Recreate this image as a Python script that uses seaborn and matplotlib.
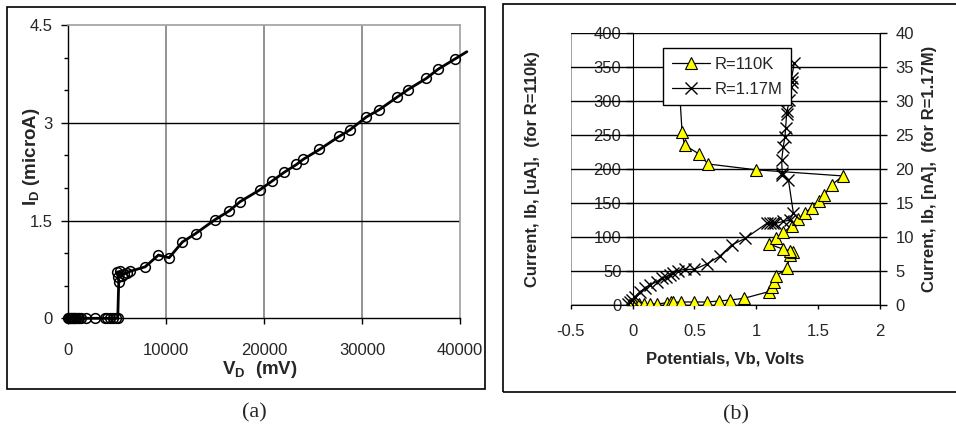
import numpy as np
import pandas as pd
import matplotlib
matplotlib.use("Agg")
import matplotlib.pyplot as plt
import seaborn as sns
from matplotlib.patches import Rectangle
from matplotlib.ticker import FuncFormatter, MultipleLocator

# ---- panel (a): drain current vs drain voltage ----
vd_mv = [0, 80, 160, 250, 350, 450, 550, 650, 800, 950, 1100, 1300, 1800, 2700,
         3700, 4000, 4300, 4600, 4900, 5050, 5150, 5100, 5000, 5300, 5500, 5700,
         6000, 6300, 7850, 9200, 10300, 11650, 13000, 14950, 16450, 17550, 19550,
         20850, 22050, 23300, 24000, 25650, 27650, 28750, 30450, 31750, 33550,
         34700, 36550, 37750, 39500, 40700]
id_ua = [0, 0, 0, 0, 0, 0, 0, 0, 0, 0, 0, 0, 0, 0,
         0, 0, 0, 0, 0, 0, 0.56, 0.63, 0.71, 0.72, 0.65, 0.68,
         0.70, 0.72, 0.79, 0.97, 0.93, 1.17, 1.30, 1.51, 1.65, 1.79, 1.97,
         2.11, 2.24, 2.36, 2.44, 2.59, 2.79, 2.89, 3.09, 3.20, 3.39,
         3.51, 3.68, 3.82, 3.98, 4.09]

# ---- panel (b): R=110K (uA, left axis) ----
vb_110k = [-0.03, -0.01, 0.02, 0.05, 0.09, 0.14, 0.20, 0.28, 0.31, 0.33, 0.39,
           0.50, 0.60, 0.70, 0.79, 0.90, 1.10, 1.13, 1.14, 1.16, 1.25, 1.27,
           1.30, 1.27, 1.22, 1.10, 1.16, 1.22, 1.29, 1.34, 1.39, 1.45, 1.51,
           1.55, 1.61, 1.70, 1.00, 0.61, 0.54, 0.42, 0.40, 0.38, 0.37]
ib_110k = [0, 1, 0, 1, 1.5, 1.5, 1.5, 3.4, 4, 4, 4.4,
           4.4, 4.4, 5.9, 7.4, 9.8, 19.6, 27, 34, 43, 54, 73,
           77.5, 80, 82, 90, 98, 107, 117, 126.6, 136, 142.8, 152.6,
           162, 177, 190, 199, 207.6, 222, 235.6, 255, 315, 350]

# ---- panel (b): R=1.17M (nA, right axis) ----
vb_117m = [-0.035, -0.02, -0.008, 0.019, 0.059, 0.10, 0.14, 0.194, 0.234, 0.27,
           0.30, 0.33, 0.37, 0.42, 0.50, 0.60, 0.706, 0.80, 0.91, 1.084, 1.11,
           1.137, 1.15, 1.218, 1.27, 1.30, 1.26, 1.205, 1.21, 1.205, 1.218,
           1.232, 1.237, 1.245, 1.25, 1.267, 1.28, 1.288, 1.285, 1.307]
ib_117m = [0.15, 0.5, 0.74, 1.23, 1.96, 2.45, 2.94, 3.44, 3.93, 4.17,
           4.42, 4.66, 5.06, 5.25, 5.25, 6.04, 7.2, 8.83, 9.8, 12.0, 12.1,
           12.1, 12.0, 12.3, 12.5, 13.5, 18.4, 19.1, 19.4, 21.3, 23.3,
           24.8, 26.0, 28.1, 28.6, 30.2, 32.1, 32.9, 33.4, 35.6]

sns.set_style("white")
plt.rcParams["font.family"] = ["Liberation Sans", "DejaVu Sans"]
plt.rcParams["mathtext.fontset"] = "custom"
plt.rcParams["mathtext.rm"] = "Liberation Sans:bold"
plt.rcParams["mathtext.it"] = "Liberation Sans:bold"
plt.rcParams["mathtext.bf"] = "Liberation Sans:bold"

fig = plt.figure(figsize=(9.56, 4.32), dpi=100)
W, H = 956, 432

def frac(x0, y0, x1, y1):
    return [x0 / W, 1 - y1 / H, (x1 - x0) / W, (y1 - y0) / H]

# panel frames
for x0, y0, x1, y1 in [(7, 7, 485, 389), (503, 4, 960, 392)]:
    fig.patches.append(Rectangle((x0 / W, 1 - y1 / H), (x1 - x0) / W, (y1 - y0) / H,
                                 transform=fig.transFigure, fill=False,
                                 edgecolor="black", linewidth=1.2))

# ================= panel (a) =================
axa = fig.add_axes(frac(68.3, 25, 460, 318.3))
dfa = pd.DataFrame({"VD": vd_mv, "ID": id_ua})
sns.lineplot(data=dfa, x="VD", y="ID", ax=axa, sort=False, estimator=None,
             color="black", linewidth=2.0, marker="o", markersize=7,
             markerfacecolor="none", markeredgecolor="black", markeredgewidth=1.1,
             markevery=list(range(len(vd_mv) - 1)), clip_on=False, zorder=5)
axa.set_xlim(0, 40000)
axa.set_ylim(0, 4.5)
axa.xaxis.set_major_locator(MultipleLocator(10000))
axa.yaxis.set_major_locator(MultipleLocator(1.5))
axa.yaxis.set_minor_locator(MultipleLocator(0.5))
axa.xaxis.set_major_formatter(FuncFormatter(lambda v, p: f"{v:g}"))
axa.yaxis.set_major_formatter(FuncFormatter(lambda v, p: f"{v:g}"))
axa.grid(False)
for v in [10000, 20000, 30000]:
    axa.axvline(v, color="#808080", linewidth=1.2, zorder=1)
for v in [1.5, 3.0]:
    axa.axhline(v, color="black", linewidth=1.0, zorder=1)
for s in ["top", "right"]:
    axa.spines[s].set_color("#a0a0a0")
    axa.spines[s].set_linewidth(1.2)
for s in ["left", "bottom"]:
    axa.spines[s].set_color("black")
    axa.spines[s].set_linewidth(1.0)
axa.tick_params(axis="y", which="major", direction="out", length=5, width=1,
                pad=6, labelsize=12, left=True, color="black")
axa.tick_params(axis="y", which="minor", direction="out", length=3, width=1,
                left=True, color="black")
axa.tick_params(axis="x", which="major", direction="out", length=4, width=1,
                pad=14, labelsize=12, bottom=True, color="black")
axa.set_xlabel(r"V$_{\mathrm{D}}$  (mV)", fontsize=13.5, fontweight="bold")
axa.set_ylabel(r"I$_{\mathrm{D}}$ (microA)", fontsize=13.5, fontweight="bold")
axa.xaxis.set_label_coords(0.49, -0.14)
axa.yaxis.set_label_coords(-0.068, 0.55)

fig.text(254 / W, 1 - 413 / H, "(a)", ha="center", va="center", fontsize=16,
         family=["Liberation Serif", "DejaVu Serif"])

# ================= panel (b) =================
axb = fig.add_axes(frac(570.7, 33.3, 880, 305))
df110 = pd.DataFrame({"Vb": vb_110k, "Ib": ib_110k})
sns.lineplot(data=df110, x="Vb", y="Ib", ax=axb, sort=False, estimator=None,
             color="black", linewidth=0.9, marker="^", markersize=8,
             markerfacecolor="#FFFF00", markeredgecolor="black",
             markeredgewidth=0.8, zorder=5, label="R=110K", legend=False)
axb.set_xlim(-0.5, 2)
axb.set_ylim(0, 400)
axb.xaxis.set_major_locator(MultipleLocator(0.5))
axb.yaxis.set_major_locator(MultipleLocator(50))
axb.xaxis.set_major_formatter(FuncFormatter(lambda v, p: f"{v:g}"))
axb.grid(False)
for v in range(50, 401, 50):
    axb.axhline(v, color="black", linewidth=1.0, zorder=1)
axb.add_patch(Rectangle((0, 0), 1, 1, transform=axb.transAxes, fill=False,
                        edgecolor="#909090", linewidth=1.2, zorder=0.5))
axb.spines["left"].set_position(("data", 0))
axb.spines["left"].set_color("black")
axb.spines["bottom"].set_color("black")
axb.spines["top"].set_visible(False)
axb.spines["right"].set_visible(False)
axb.tick_params(axis="y", direction="out", length=5, width=1, pad=3,
                labelsize=12, left=True, color="black")
axb.tick_params(axis="x", direction="out", length=3, width=1, pad=11,
                labelsize=12, bottom=True, color="black")
axb.set_xlabel("Potentials, Vb, Volts", fontsize=12, fontweight="bold")
axb.set_ylabel("Current, Ib, [uA],  (for R=110k)", fontsize=12,
               fontweight="bold")
axb.xaxis.set_label_coords(0.5, -0.17)
axb.yaxis.set_label_coords(-0.10, 0.5)

axb2 = axb.twinx()
df117 = pd.DataFrame({"Vb": vb_117m, "Ib": ib_117m})
sns.lineplot(data=df117, x="Vb", y="Ib", ax=axb2, sort=False, estimator=None,
             color="black", linewidth=0.9, marker="x", markersize=8,
             markeredgecolor="black", markeredgewidth=1.0, zorder=5,
             label="R=1.17M", legend=False)
axb2.set_ylim(0, 40)
axb2.yaxis.set_major_locator(MultipleLocator(5))
for s in ["left", "top", "bottom"]:
    axb2.spines[s].set_visible(False)
axb2.spines["right"].set_color("black")
axb2.tick_params(axis="y", direction="out", length=5, width=1, pad=6,
                 labelsize=12, right=True, color="black")
axb2.set_ylabel("Current, Ib, [nA],  (for R=1.17M)", fontsize=12,
                fontweight="bold", rotation=90)
axb2.yaxis.set_label_coords(1.135, 0.5)

handles = [axb.lines[0], axb2.lines[0]]
leg = axb2.legend(handles, ["R=110K", "R=1.17M"], loc="upper left",
                  bbox_to_anchor=(0.299, 0.945), borderaxespad=0, fontsize=12,
                  frameon=True, fancybox=False, framealpha=1, edgecolor="black",
                  handlelength=2.3, borderpad=0.5, labelspacing=0.6,
                  handletextpad=0.3)
leg.get_frame().set_linewidth(1.0)
leg.set_zorder(10)

fig.text(736 / W, 1 - 415 / H, "(b)", ha="center", va="center", fontsize=16,
         family=["Liberation Serif", "DejaVu Serif"])

fig.savefig("out.png", dpi=100)
